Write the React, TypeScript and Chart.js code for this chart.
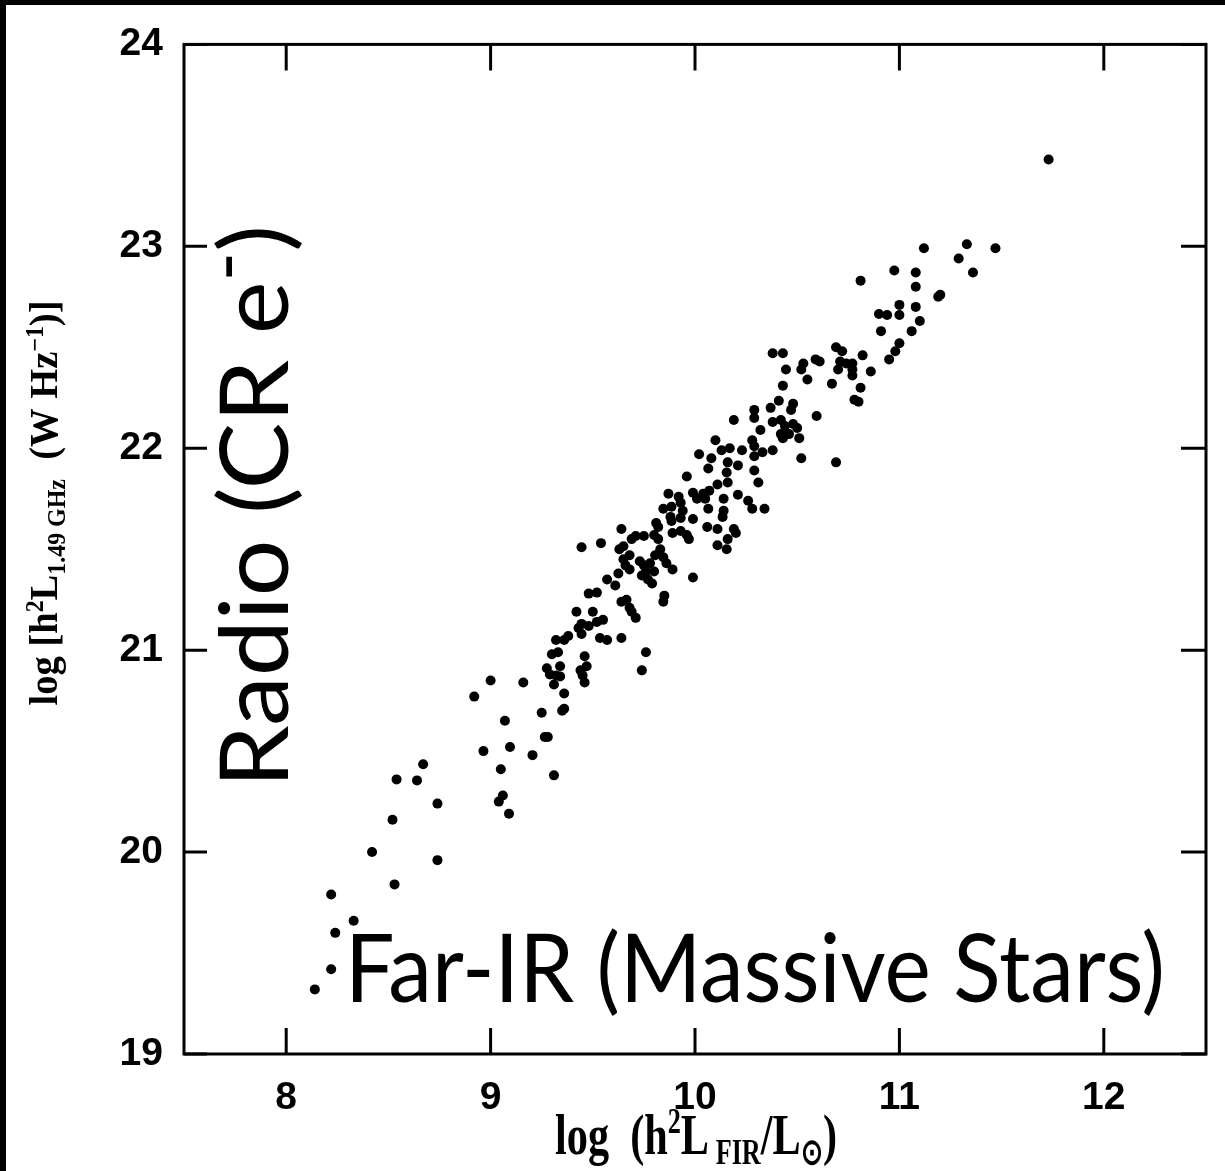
import React, { useEffect, useRef } from "react";
import { Chart, registerables } from "chart.js";

Chart.register(...registerables);

// ---- axis definitions ----
const X_MIN = 7.5;
const X_MAX = 12.5;
const Y_MIN = 19;
const Y_MAX = 24;
const xTickValues = [8, 9, 10, 11, 12];
const yTickValues = [19, 20, 21, 22, 23, 24];

// ---- data: log(h^2 L_FIR / Lsun) ----
const logLfir = [
  11.73, 11.12, 11.33, 11.29, 11.47, 11.36, 11.08, 11.08, 11.19, 11.2,
  10.975, 10.81, 11.0, 11.08, 10.9, 10.94, 11.0, 11.1, 10.91, 11.06,
  11.0, 10.98, 10.95, 10.69, 10.72, 10.82, 10.71, 10.74, 10.77, 10.7,
  10.77, 10.77, 10.86, 10.81, 10.78, 10.8, 10.38, 10.43, 10.445, 10.53,
  10.52, 10.59, 10.61, 10.55, 10.67, 10.43, 10.41, 10.48, 10.47, 10.37,
  10.595, 10.29, 10.19, 10.29, 10.38, 10.42, 10.48, 10.5, 10.44, 10.42,
  10.46, 10.51, 10.43, 10.32, 10.28, 10.29, 10.1, 10.52, 10.69, 10.02,
  10.08, 10.13, 10.17, 10.23, 10.33, 10.38, 10.29, 10.065, 10.16, 10.155,
  10.16, 10.21, 10.29, 10.31, 9.96, 10.11, 9.87, 9.92, 9.99, 10.04,
  10.07, 10.01, 10.05, 10.14, 10.21, 10.26,
  10.28, 10.34, 9.845, 9.885, 9.93, 9.94, 9.93, 9.88, 9.885, 9.99,
  10.065, 10.14, 10.135, 10.06, 10.11, 10.19, 10.2, 10.16, 10.11, 10.155,
  9.96, 9.97, 9.89, 9.93, 9.81, 9.82, 9.8, 9.82, 9.83, 9.845,
  9.86, 9.89, 9.805, 9.78, 9.8, 9.75, 9.71, 9.69, 9.65, 9.63,
  9.64, 9.68, 9.65, 9.66, 9.73, 9.75, 9.76, 9.74, 9.77, 9.79,
  9.68, 9.54, 9.445, 9.99, 9.625, 9.57, 9.61, 9.52, 9.48, 9.85,
  9.845, 9.64, 9.665, 9.68, 9.69, 9.71, 9.42, 9.5, 9.55, 9.52,
  9.48, 9.445, 9.43, 9.445, 9.38, 9.36, 9.535, 9.57, 9.64, 9.32,
  9.3, 9.33, 9.46, 9.76, 9.275, 9.29, 9.32, 9.34, 9.34, 9.31,
  9.36, 9.44, 9.47, 9.45, 9.46, 9.74, 9.0, 9.16, 8.92,
  9.25, 9.36, 9.35, 9.07, 9.265, 9.28, 8.965, 9.095, 9.205, 9.05, 9.31, 9.06, 9.04, 9.09,
  8.67, 8.54, 8.64, 8.74, 8.52, 8.42, 8.74, 8.53, 8.22, 8.33, 8.24, 8.22, 8.14,
];

// ---- data: log(h^2 L_1.49GHz / W Hz^-1) ----
const logL149 = [
  23.43, 22.99, 23.01, 22.94, 22.99, 22.87, 22.87, 22.8, 22.75, 22.76,
  22.88, 22.83, 22.71, 22.7, 22.665, 22.66, 22.66, 22.63, 22.58, 22.58,
  22.52, 22.48, 22.44, 22.5, 22.48, 22.46, 22.43, 22.42, 22.42, 22.39,
  22.39, 22.36, 22.38, 22.3, 22.24, 22.23, 22.47, 22.47, 22.39, 22.42,
  22.39, 22.44, 22.43, 22.34, 22.32, 22.31, 22.235, 22.22, 22.19, 22.2,
  22.16, 22.19, 22.14, 22.15, 22.13, 22.14, 22.12, 22.1, 22.11, 22.07,
  22.07, 22.05, 22.05, 22.09, 22.04, 22.01, 22.04, 21.95, 21.93, 21.97,
  21.95, 21.99, 22.0, 21.99, 21.98, 21.99, 21.96, 21.9, 21.93, 21.88,
  21.83, 21.915, 21.89, 21.83, 21.86, 21.82, 21.775, 21.76, 21.78, 21.775,
  21.79, 21.75, 21.75, 21.75, 21.77, 21.74,
  21.7, 21.7, 21.7, 21.71, 21.73, 21.69, 21.655, 21.66, 21.64, 21.65,
  21.7, 21.69, 21.66, 21.61, 21.6, 21.6, 21.58, 21.55, 21.52, 21.5,
  21.57, 21.55, 21.58, 21.59, 21.63, 21.61, 21.57, 21.55, 21.5, 21.46,
  21.43, 21.4, 21.47, 21.43, 21.39, 21.565, 21.565, 21.55, 21.515, 21.5,
  21.6, 21.47, 21.45, 21.42, 21.44, 21.42, 21.39, 21.37, 21.35, 21.33,
  21.4, 21.53, 21.51, 21.36, 21.38, 21.35, 21.32, 21.285, 21.28, 21.27,
  21.24, 21.24, 21.25, 21.21, 21.19, 21.16, 21.19, 21.19, 21.15, 21.14,
  21.12, 21.13, 21.11, 21.08, 21.07, 21.05, 21.06, 21.05, 21.06, 21.05,
  20.98, 20.99, 20.97, 20.99, 20.91, 20.88, 20.875, 20.87, 20.92, 20.83,
  20.785, 20.9, 20.92, 20.875, 20.84, 20.9, 20.85, 20.84, 20.77,
  20.69, 20.71, 20.7, 20.65, 20.57, 20.57, 20.5, 20.52, 20.48, 20.41, 20.38, 20.28, 20.25, 20.19,
  20.435, 20.36, 20.355, 20.24, 20.16, 20.0, 19.96, 19.84, 19.79, 19.66, 19.6, 19.42, 19.32,
];

// ---- text ----
type Seg = { t: string; k: "n" | "sup" | "sub" };
const xTitleParts: Seg[] = [
  { t: "log  (h", k: "n" },
  { t: "2", k: "sup" },
  { t: "L", k: "n" },
  { t: " FIR", k: "sub" },
  { t: "/L", k: "n" },
  { t: "\u2299", k: "sub" },
  { t: ")", k: "n" },
];
const yTitleParts: Seg[] = [
  { t: "log [h", k: "n" },
  { t: "2", k: "sup" },
  { t: "L", k: "n" },
  { t: "1.49 GHz", k: "sub" },
  { t: "  (W Hz", k: "n" },
  { t: "\u22121", k: "sup" },
  { t: ")]", k: "n" },
];
const radioParts: Seg[] = [
  { t: "Radio (CR e", k: "n" },
  { t: "-", k: "sup" },
  { t: ")", k: "n" },
];
const farIrParts: Seg[] = [{ t: "Far-IR (Massive Stars)", k: "n" }];

const SERIF = '"Liberation Serif", "Times New Roman", serif';
const BIG = 'Lato, "Open Sans", sans-serif';
const TICK_FONT = '"Liberation Sans", Arial, Helvetica, sans-serif';

function drawRich(
  ctx: CanvasRenderingContext2D,
  parts: Seg[],
  size: number,
  family: string,
  weight: string,
  subScale: number,
  supRise: number,
  subDrop: number,
  measureOnly: boolean
): number {
  let cx = 0;
  for (const p of parts) {
    const s = p.k === "n" ? size : size * subScale;
    ctx.font = `${weight} ${s}px ${family}`;
    const dy = p.k === "sup" ? -size * supRise : p.k === "sub" ? size * subDrop : 0;
    if (!measureOnly) ctx.fillText(p.t, cx, dy);
    cx += ctx.measureText(p.t).width;
  }
  return cx;
}

const decorPlugin = {
  id: "decor",
  beforeDraw(chart: any) {
    const ctx: CanvasRenderingContext2D = chart.ctx;
    ctx.save();
    ctx.fillStyle = "#ffffff";
    ctx.fillRect(0, 0, chart.width, chart.height);
    ctx.fillStyle = "#000000";
    ctx.fillRect(0, 0, chart.width, 5);
    ctx.fillRect(0, 0, 6, chart.height);
    ctx.restore();
  },
  afterDraw(chart: any) {
    const ctx: CanvasRenderingContext2D = chart.ctx;
    const a = chart.chartArea;
    const xs = chart.scales.x;
    const ys = chart.scales.y;
    ctx.save();
    ctx.strokeStyle = "#000";
    ctx.fillStyle = "#000";
    ctx.lineWidth = 3;
    ctx.strokeRect(a.left, a.top, a.right - a.left, a.bottom - a.top);
    ctx.beginPath();
    for (const v of xTickValues) {
      const px = xs.getPixelForValue(v);
      ctx.moveTo(px, a.bottom);
      ctx.lineTo(px, a.bottom - 26);
      ctx.moveTo(px, a.top);
      ctx.lineTo(px, a.top + 26);
    }
    for (const v of yTickValues) {
      const py = ys.getPixelForValue(v);
      ctx.moveTo(a.left, py);
      ctx.lineTo(a.left + 23, py);
      ctx.moveTo(a.right, py);
      ctx.lineTo(a.right - 25, py);
    }
    ctx.stroke();

    ctx.textBaseline = "alphabetic";
    ctx.textAlign = "left";

    // x-axis title
    ctx.save();
    const xw = drawRich(ctx, xTitleParts, 40, SERIF, "bold", 0.62, 0.36, 0.18, true);
    ctx.translate(555, 1154);
    ctx.scale(282 / xw, 1.45);
    drawRich(ctx, xTitleParts, 40, SERIF, "bold", 0.62, 0.36, 0.18, false);
    ctx.restore();

    // y-axis title (rotated)
    ctx.save();
    const yw = drawRich(ctx, yTitleParts, 40, SERIF, "bold", 0.62, 0.36, 0.2, true);
    ctx.translate(57, 503);
    ctx.rotate(-Math.PI / 2);
    ctx.scale(405 / yw, 1);
    ctx.translate(-yw / 2, 0);
    drawRich(ctx, yTitleParts, 40, SERIF, "bold", 0.62, 0.36, 0.2, false);
    ctx.restore();

    // "Radio (CR e-)" overlay, rotated
    ctx.save();
    const rw = drawRich(ctx, radioParts, 95, BIG, "normal", 0.8, 0.38, 0, true);
    ctx.translate(288, 788);
    ctx.rotate(-Math.PI / 2);
    ctx.scale(563 / rw, 1);
    drawRich(ctx, radioParts, 95, BIG, "normal", 0.8, 0.38, 0, false);
    ctx.restore();

    // "Far-IR (Massive Stars)" overlay
    ctx.save();
    const fw = drawRich(ctx, farIrParts, 95, BIG, "normal", 1, 0, 0, true);
    ctx.translate(345, 1002);
    ctx.scale(820 / fw, 1);
    drawRich(ctx, farIrParts, 95, BIG, "normal", 1, 0, 0, false);
    ctx.restore();

    ctx.restore();
  },
};

export default function App() {
  const canvasRef = useRef<HTMLCanvasElement>(null);

  useEffect(() => {
    const canvas = canvasRef.current;
    if (!canvas) return;
    const points = logLfir.map((x, i) => ({ x, y: logL149[i] }));
    const chart = new Chart(canvas, {
      type: "scatter",
      data: {
        datasets: [
          {
            data: points,
            backgroundColor: "#000",
            borderWidth: 0,
            pointRadius: 5,
            pointHoverRadius: 5,
          },
        ],
      },
      options: {
        animation: false,
        responsive: false,
        devicePixelRatio: 1,
        events: [],
        layout: { padding: { left: 0, top: 39, right: 19, bottom: 0 } },
        plugins: {
          legend: { display: false },
          tooltip: { enabled: false },
          title: { display: false },
        },
        scales: {
          x: {
            type: "linear",
            position: "bottom",
            min: X_MIN,
            max: X_MAX,
            afterBuildTicks: (s: any) => {
              s.ticks = xTickValues.map((v) => ({ value: v }));
            },
            afterFit: (s: any) => {
              s.height = 117;
            },
            grid: { display: false, drawTicks: false },
            border: { display: false },
            ticks: {
              color: "#000",
              padding: 21,
              maxRotation: 0,
              autoSkip: false,
              font: { family: TICK_FONT, size: 39, weight: "bold" },
            },
          },
          y: {
            type: "linear",
            position: "left",
            min: Y_MIN,
            max: Y_MAX,
            afterBuildTicks: (s: any) => {
              s.ticks = yTickValues.map((v) => ({ value: v }));
            },
            afterFit: (s: any) => {
              s.width = 184;
            },
            grid: { display: false, drawTicks: false },
            border: { display: false },
            ticks: {
              color: "#000",
              padding: 21,
              autoSkip: false,
              font: { family: TICK_FONT, size: 39, weight: "bold" },
            },
          },
        },
      },
      plugins: [decorPlugin],
    } as any);
    return () => chart.destroy();
  }, []);

  return (
    <div style={{ position: "absolute", left: 0, top: 0, width: 1225, height: 1171 }}>
      <canvas
        ref={canvasRef}
        width={1225}
        height={1171}
        style={{ display: "block", width: 1225, height: 1171 }}
      />
    </div>
  );
}
